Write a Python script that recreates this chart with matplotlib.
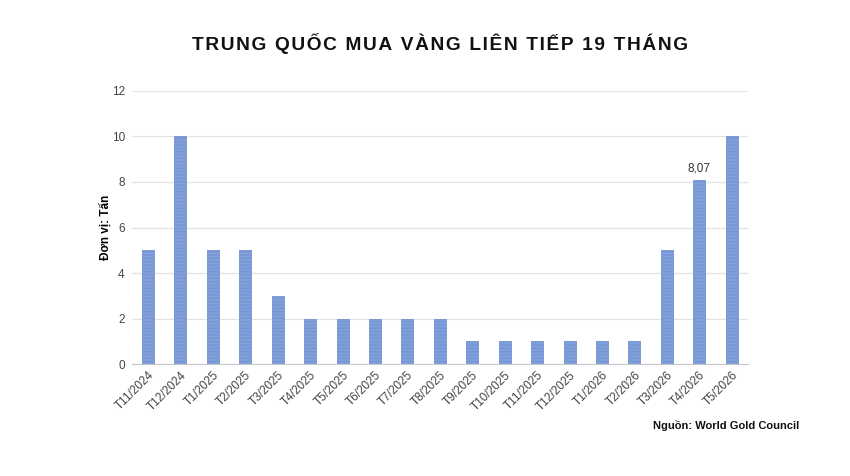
from matplotlib import pyplot as plt

months = ['T11/2024', 'T12/2024', 'T1/2025', 'T2/2025', 'T3/2025', 'T4/2025',
          'T5/2025', 'T6/2025', 'T7/2025', 'T8/2025', 'T9/2025', 'T10/2025',
          'T11/2025', 'T12/2025', 'T1/2026', 'T2/2026', 'T3/2026', 'T4/2026',
          'T5/2026']
tons = [5, 10, 5, 5, 3, 2, 2, 2, 2, 2, 1, 1, 1, 1, 1, 1, 5, 8.07, 10]
yticks = [0, 2, 4, 6, 8, 10, 12]
title = 'TRUNG QUỐC MUA VÀNG LIÊN TIẾP 19 THÁNG'

plt.rcParams['font.family'] = ['Liberation Sans', 'DejaVu Sans']
plt.rcParams['hatch.color'] = '#a9bfe8'
plt.rcParams['hatch.linewidth'] = 0.8

fig = plt.figure(figsize=(8.5, 4.76), dpi=100)
ax = fig.add_axes([0.155, 0.235, 0.725, 0.574])

x = range(len(months))
ax.bar(x, tons, width=0.37, color='#819fda', edgecolor='#7393d2',
       linewidth=0.6, hatch='-----', zorder=3)

ax.set_xlim(-0.5, len(months) - 0.5)
ax.set_ylim(0, 12)
ax.set_yticks(yticks)
ax.grid(axis='y', color='#e3e3e3', linewidth=0.9, zorder=0)
for s in ['top', 'right', 'left']:
    ax.spines[s].set_visible(False)
ax.spines['bottom'].set_color('#c8c8c8')
ax.tick_params(axis='both', length=0, colors='#444444', labelsize=8.5)
ax.tick_params(axis='y', pad=5)
ax.set_xticks(list(x))
ax.set_xticklabels(months, rotation=45, ha='right', rotation_mode='anchor')

ax.set_ylabel('Đơn vị: Tấn', fontsize=8.5, fontweight='bold', labelpad=0)

ax.annotate('8,07', (17, tons[17]), xytext=(0, 4), textcoords='offset points',
            ha='center', va='bottom', fontsize=8.5, color='#333333')

# spread the title letters a little, like the original
spaced = '\u200a'.join(title)
fig.text(0.518, 0.908, spaced, ha='center', va='center', fontsize=13.8,
         fontweight='bold', color='#111111')
fig.text(0.94, 0.107, 'Nguồn: World Gold Council', ha='right', va='center',
         fontsize=8, fontweight='bold', color='#111111')

fig.savefig('out.png', dpi=100)
